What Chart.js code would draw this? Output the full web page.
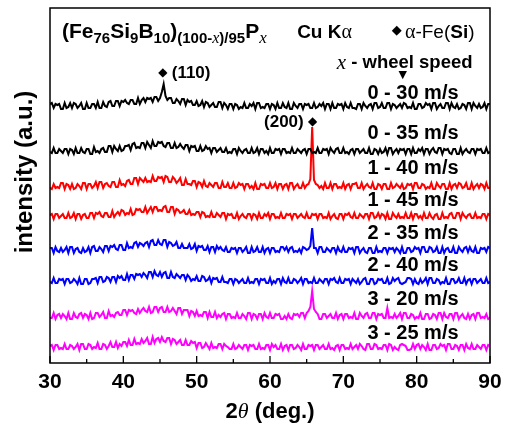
<!DOCTYPE html>
<html>
<head>
<meta charset="utf-8">
<script src="https://cdn.jsdelivr.net/npm/chart.js@4.4.1/dist/chart.umd.min.js"></script>
<style>
  html, body { margin: 0; padding: 0; background: #fff; }
  canvas { display: block; }
</style>
</head>
<body>
<canvas id="xrd-chart" width="508" height="423"></canvas>
<script>
// 2theta sampling grid, 30 .. 90 deg, 0.25 deg step
const twoTheta = [];
for (let i = 0; i <= 240; i++) twoTheta.push(30 + i * 0.25);

const xTicks = [30, 40, 50, 60, 70, 80, 90];
const speedLabels = ['0 - 30 m/s', '0 - 35 m/s', '1 - 40 m/s', '1 - 45 m/s',
                     '2 - 35 m/s', '2 - 40 m/s', '3 - 20 m/s', '3 - 25 m/s'];
const seriesColors = ['#000000', '#000000', '#ff0000', '#ff0000',
                      '#0000ff', '#0000ff', '#ff00ff', '#ff00ff'];

// intensities (a.u., curves already shifted vertically as in the figure)
const s0_30 = [
  259,260,255,259,258,259,254,254,260,255,256,260,255,260,259,255,257,260,254,254,
  260,255,255,259,259,255,261,255,255,261,257,256,261,262,257,257,262,262,257,262,
  261,263,260,259,263,263,259,259,265,259,263,265,261,265,264,265,261,266,266,262,
  265,271,279,267,263,265,265,260,260,264,262,259,264,264,258,263,261,262,258,258,
  262,257,258,262,256,261,260,256,258,260,256,256,261,261,255,260,258,254,259,259,
  254,259,258,254,256,255,260,255,255,259,257,260,254,260,260,255,256,255,259,259,
  254,259,258,254,260,255,255,260,256,255,260,254,254,260,257,255,259,259,254,259,
  258,259,255,255,260,255,256,259,257,260,254,259,259,254,260,255,255,259,258,259,
  254,260,256,255,260,255,255,254,259,259,254,260,257,255,258,259,254,260,260,255,
  256,260,255,255,260,260,254,259,258,255,257,259,255,260,259,255,256,255,260,254,
  254,259,259,255,256,260,258,259,254,260,260,254,257,259,255,255,260,260,254,260,
  256,255,259,254,255,259,258,254,260,260,254,260,257,255,259,255,256,260,254,259,259];
const s0_35 = [
  211,210,215,210,210,214,212,210,214,214,209,214,213,209,215,210,210,215,211,210,
  214,214,209,209,216,211,212,210,214,215,211,211,217,217,211,217,214,212,217,212,
  213,217,217,218,213,219,220,215,216,215,220,220,215,221,218,215,222,217,217,221,
  220,221,217,216,220,220,215,215,220,215,216,219,216,214,218,218,212,217,216,217,
  212,212,217,212,213,217,214,215,210,215,215,211,213,215,211,211,215,210,211,210,
  214,214,209,215,212,210,213,214,210,210,215,210,211,215,209,214,214,210,212,209,
  215,210,210,214,213,214,209,214,214,210,211,210,215,210,210,214,212,210,213,214,
  209,214,214,210,211,210,215,210,210,214,213,214,209,215,212,210,214,215,210,210,
  215,210,211,209,213,214,209,214,214,210,212,214,210,210,215,209,209,214,213,209,
  214,210,211,215,209,215,215,209,212,214,210,214,213,214,209,214,214,209,215,210,
  210,214,212,215,209,214,214,209,213,215,211,210,215,215,209,214,213,214,210,209,
  214,214,209,209,215,209,212,214,211,210,214,214,209,214,213,214,210,210,215,210,211];
const s1_40 = [
  175,174,179,175,176,175,180,180,174,179,178,174,179,174,175,179,177,174,180,180,
  174,179,179,175,177,181,175,181,181,175,179,180,177,176,181,181,176,176,183,178,
  179,177,182,183,179,179,185,185,179,185,183,181,185,181,182,181,187,182,182,186,
  185,186,181,187,186,181,181,186,184,180,182,185,178,178,184,179,179,178,182,182,
  176,181,180,176,182,177,176,180,178,176,180,180,175,175,181,176,176,180,175,175,
  180,175,176,180,178,179,174,179,179,175,177,174,180,174,174,179,178,179,175,175,
  180,175,176,180,174,179,179,174,178,179,174,180,180,174,177,179,175,175,180,175,
  178,179,184,236,183,179,178,175,177,174,180,175,175,180,174,179,179,175,176,175,
  180,174,178,179,174,179,179,180,175,175,180,174,177,179,176,175,180,174,174,179,
  178,174,179,179,174,174,180,175,176,179,177,175,179,174,175,179,178,179,174,180,
  180,175,175,179,178,174,176,175,180,174,174,180,177,175,179,179,174,174,180,174,
  178,179,175,180,179,175,176,180,174,174,180,174,177,179,175,179,178,174,180,175,175];
const s1_45 = [
  148,149,144,149,149,145,147,149,145,145,150,145,146,150,144,149,149,144,148,149,
  145,145,150,150,145,150,149,151,147,146,150,150,146,146,152,146,149,151,148,153,
  152,148,150,149,154,148,149,154,153,154,151,151,156,150,153,156,151,156,156,152,
  153,152,156,157,151,151,156,156,149,154,153,150,151,153,149,149,153,148,149,148,
  151,151,146,151,150,146,147,146,151,146,146,150,148,146,150,150,144,149,148,149,
  145,145,150,144,147,149,146,145,149,149,144,149,148,144,150,145,145,149,147,150,
  144,149,149,145,146,145,150,145,145,149,148,149,144,149,149,145,147,149,146,145,
  150,145,145,149,148,149,144,149,149,145,146,145,150,144,147,149,145,144,149,149,
  144,149,148,150,146,145,150,145,145,149,147,145,149,149,144,150,150,145,146,150,
  145,149,148,144,150,144,144,150,147,145,149,145,146,145,150,145,145,150,144,149,
  149,145,147,144,150,145,145,150,146,144,148,149,144,144,150,145,146,145,149,150,
  145,145,150,150,144,150,147,145,148,149,145,145,150,145,146,145,149,149,144,149,148];
const s2_35 = [
  115,115,110,116,112,111,115,111,113,116,110,116,116,110,114,115,111,110,115,111,
  112,116,110,116,117,112,112,116,114,111,117,117,112,117,116,118,114,113,118,118,
  113,113,120,115,116,115,120,121,116,120,119,117,120,121,116,122,123,118,118,123,
  119,118,123,123,116,121,120,117,118,121,115,115,119,115,115,115,119,114,115,119,
  112,117,116,117,113,113,117,111,116,116,111,117,114,116,113,112,116,111,111,115,
  114,115,110,115,115,111,113,116,110,110,116,111,112,116,111,111,116,110,114,115,
  110,115,115,111,112,111,116,116,113,116,111,115,116,111,112,111,114,110,116,115,
  113,114,117,135,115,115,110,116,116,111,111,115,113,111,115,115,110,116,112,111,
  116,111,111,115,114,115,110,116,116,110,113,115,111,110,115,115,110,110,116,111,
  112,111,115,115,110,115,114,115,111,115,113,110,116,110,110,115,115,111,112,116,
  114,115,110,116,116,111,111,116,115,111,112,116,110,110,116,110,114,115,111,111,
  116,110,110,116,113,111,115,116,111,116,112,111,116,110,110,115,114,115,111,116,115];
const s2_40 = [
  81,80,85,80,80,84,83,84,79,84,84,80,81,84,82,79,85,79,79,84,
  84,79,80,84,84,85,80,86,86,81,82,86,85,81,86,86,81,87,85,87,
  83,83,89,83,88,88,84,89,88,89,86,90,88,85,91,91,86,92,88,87,
  91,86,90,91,85,85,91,86,85,89,87,85,88,88,83,88,86,82,84,83,
  87,82,82,87,86,82,83,86,80,85,84,85,81,81,86,81,81,80,84,84,
  79,84,83,80,82,84,80,80,85,80,81,80,84,84,79,84,83,84,80,80,
  85,79,82,80,84,84,79,85,81,80,85,80,80,84,83,80,82,85,79,84,
  84,80,81,80,85,80,80,84,82,80,84,84,79,84,83,85,81,80,85,80,
  80,84,83,84,79,84,82,80,84,79,81,84,85,79,79,84,84,79,80,84,
  83,84,80,80,85,79,80,85,82,84,85,80,79,80,81,85,85,84,79,84,
  80,79,84,80,82,85,79,85,85,80,80,84,83,79,81,80,85,79,79,84,
  84,80,81,85,80,80,85,79,83,84,79,84,84,80,82,84,80,80,85,80,81];
const s3_20 = [
  45,45,50,44,48,49,45,49,47,44,50,44,44,50,46,45,49,50,45,49,
  48,44,50,44,45,50,50,46,48,51,45,45,52,47,48,46,50,51,48,48,
  53,53,48,53,52,53,50,49,54,50,53,55,52,51,56,50,51,56,56,51,
  55,56,51,51,56,51,52,55,52,49,55,55,49,53,53,53,47,52,51,47,
  52,47,48,47,51,51,45,51,46,46,51,45,48,46,49,50,44,49,49,45,
  46,45,50,45,45,49,47,44,50,50,44,49,48,44,49,49,44,50,46,45,
  50,45,45,49,48,49,44,44,47,44,49,45,44,49,48,49,46,50,50,45,
  50,52,56,72,54,51,49,44,44,49,49,45,47,49,45,45,50,44,48,49,
  44,49,49,45,46,45,50,44,44,50,47,45,49,50,45,45,50,50,44,49,
  48,49,45,45,55,45,46,45,49,45,47,50,44,50,50,45,45,49,48,44,
  46,45,50,44,44,49,49,44,45,49,48,44,50,50,44,50,46,45,49,49,
  44,50,50,44,47,49,45,44,49,44,48,49,44,50,50,45,46,45,49,44,45];
const s3_25 = [
  17,18,13,18,18,14,15,14,19,14,14,18,17,14,16,19,13,19,19,14,
  14,19,18,14,16,15,20,14,14,19,18,14,17,21,16,16,21,15,19,17,
  21,21,17,23,18,18,24,19,20,19,24,20,22,25,19,19,26,20,24,25,
  21,26,22,21,25,25,19,24,23,19,21,23,18,18,23,18,18,22,20,21,
  15,20,20,15,16,20,17,14,20,15,16,15,19,19,14,19,17,16,14,14,
  19,14,15,18,16,14,18,18,13,18,17,18,14,14,19,14,15,14,18,18,
  13,19,16,18,14,14,19,13,17,18,13,18,18,14,15,18,16,13,19,14,
  14,18,17,18,13,18,18,14,16,18,14,14,19,14,15,13,17,18,13,18,
  18,14,15,14,19,14,16,18,14,19,17,14,13,19,19,14,14,19,18,14,
  15,14,18,18,13,19,18,13,16,14,13,18,19,18,17,13,13,14,19,14,
  18,19,14,18,16,13,19,13,13,18,18,14,15,19,17,18,13,19,19,14,
  14,18,17,13,18,18,13,19,15,14,19,14,14,18,16,14,18,18,13,18,17];

const allSeries = [s0_30, s0_35, s1_40, s1_45, s2_35, s2_40, s3_20, s3_25];

const SANS = '"Liberation Sans", Arial, sans-serif';
const SERIF = '"Liberation Serif", "Times New Roman", serif';
const bold = px => 'bold ' + px + 'px ' + SANS;

// draw a run of text pieces with their own fonts / baseline shifts
function drawRich(ctx, x, y, segs, align) {
    let w = 0;
    segs.forEach(s => { ctx.font = s.f; w += ctx.measureText(s.t).width; });
    let cx = align === 'center' ? x - w / 2 : x;
    segs.forEach(s => {
        ctx.font = s.f;
        ctx.fillText(s.t, cx, y + (s.dy || 0));
        cx += ctx.measureText(s.t).width;
    });
}

const decorPlugin = {
    id: 'decor',
    afterDraw(chart) {
        const ctx = chart.ctx;
        const xs = chart.scales.x, ys = chart.scales.y;
        const area = chart.chartArea;
        const px = v => xs.getPixelForValue(v);
        const py = v => ys.getPixelForValue(v);
        ctx.save();
        ctx.fillStyle = '#000';
        ctx.strokeStyle = '#000';

        // frame
        ctx.lineWidth = 1.5;
        ctx.strokeRect(area.left, area.top, area.right - area.left, area.bottom - area.top);

        // inward ticks on the bottom axis, minor every 5 deg
        ctx.lineWidth = 1.3;
        for (let t = 30; t <= 90; t += 5) {
            const len = t % 10 === 0 ? 7 : 4;
            ctx.beginPath();
            ctx.moveTo(px(t), area.bottom);
            ctx.lineTo(px(t), area.bottom - len);
            ctx.stroke();
        }

        // tick labels
        ctx.textBaseline = 'middle';
        ctx.textAlign = 'center';
        ctx.font = bold(21);
        xTicks.forEach(t => ctx.fillText(String(t), px(t), area.bottom + 19));

        ctx.textAlign = 'left';
        ctx.textBaseline = 'alphabetic';
        // x axis title
        drawRich(ctx, (area.left + area.right) / 2, area.bottom + 55, [
            { t: '2', f: bold(22) },
            { t: 'θ', f: 'italic 22px ' + SERIF },
            { t: ' (deg.)', f: bold(22) }
        ], 'center');

        // y axis title
        ctx.save();
        ctx.translate(25, 172);
        ctx.rotate(-Math.PI / 2);
        ctx.textAlign = 'center';
        ctx.textBaseline = 'middle';
        ctx.font = bold(24);
        ctx.fillText('intensity (a.u.)', 0, 0);
        ctx.restore();

        // composition title
        const sub = bold(15);
        drawRich(ctx, px(31.64), py(325), [
            { t: '(Fe', f: bold(21) },
            { t: '76', f: sub, dy: 5 },
            { t: 'Si', f: bold(21) },
            { t: '9', f: sub, dy: 5 },
            { t: 'B', f: bold(21) },
            { t: '10', f: sub, dy: 5 },
            { t: ')', f: bold(21) },
            { t: '(100-', f: sub, dy: 5 },
            { t: 'x', f: 'italic 16px ' + SERIF, dy: 5 },
            { t: ')/95', f: sub, dy: 5 },
            { t: 'P', f: bold(21) },
            { t: 'x', f: 'italic 17px ' + SERIF, dy: 5 }
        ], 'left');

        drawRich(ctx, px(63.7), py(325), [
            { t: 'Cu K', f: bold(19) },
            { t: 'α', f: '20px ' + SERIF }
        ], 'left');

        ctx.textBaseline = 'middle';
        ctx.textAlign = 'center';
        ctx.font = '13px "DejaVu Sans"';
        ctx.fillText('◆', px(77.3), py(332));
        ctx.textBaseline = 'alphabetic';
        ctx.textAlign = 'left';
        drawRich(ctx, px(78.4), py(325), [
            { t: 'α', f: '20px ' + SERIF },
            { t: '-Fe(', f: '19px ' + SANS },
            { t: 'Si', f: bold(19) },
            { t: ')', f: '19px ' + SANS }
        ], 'left');

        ctx.textBaseline = 'middle';
        drawRich(ctx, px(69.1), py(300), [
            { t: 'x', f: 'italic 21px ' + SERIF },
            { t: ' - wheel speed', f: bold(18.5) }
        ], 'left');
        ctx.textAlign = 'center';
        ctx.font = '11px "DejaVu Sans"';
        ctx.fillText('▼', px(78.1), py(288));

        // peak markers
        ctx.font = '12px "DejaVu Sans"';
        ctx.fillText('◆', px(45.4), py(290));
        ctx.fillText('◆', px(65.8), py(241));
        ctx.font = bold(17);
        ctx.textAlign = 'left';
        ctx.fillText('(110)', px(46.6), py(290));
        ctx.textAlign = 'right';
        ctx.fillText('(200)', px(64.6), py(241));

        // wheel speed labels
        const labelY = [270, 230, 195, 163, 130, 98, 64, 30];
        ctx.textAlign = 'center';
        ctx.font = bold(20);
        speedLabels.forEach((s, i) => ctx.fillText(s, px(79.5), py(labelY[i])));

        ctx.restore();
    }
};

new Chart(document.getElementById('xrd-chart'), {
    type: 'line',
    data: {
        datasets: allSeries.map((s, i) => ({
            label: speedLabels[i],
            data: s.map((v, j) => ({ x: twoTheta[j], y: v })),
            borderColor: seriesColors[i],
            borderWidth: 2,
            pointRadius: 0,
            tension: 0,
            fill: false
        }))
    },
    options: {
        responsive: false,
        animation: false,
        devicePixelRatio: 1,
        layout: {
            padding: { left: 50, right: 18, top: 8, bottom: 60 }
        },
        plugins: {
            legend: { display: false },
            tooltip: { enabled: false },
            title: { display: false }
        },
        scales: {
            x: { type: 'linear', min: 30, max: 90, display: false },
            y: { type: 'linear', min: 0, max: 355, display: false }
        }
    },
    plugins: [decorPlugin]
});
</script>
</body>
</html>
